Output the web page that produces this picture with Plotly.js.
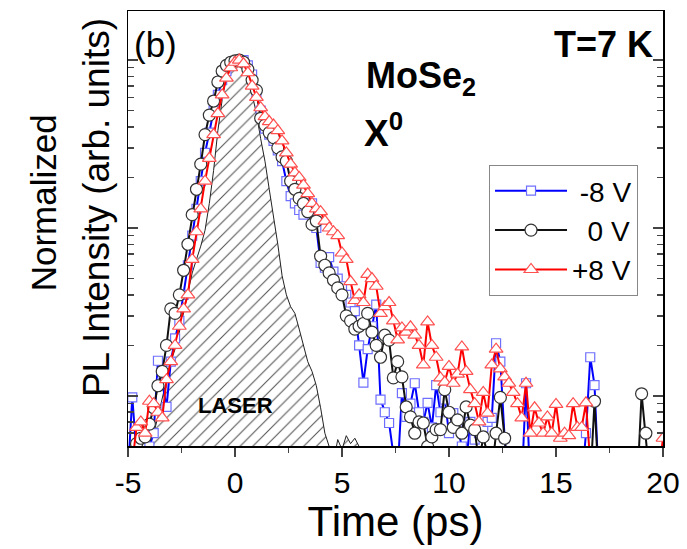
<!DOCTYPE html>
<html><head><meta charset="utf-8">
<script src="https://cdn.plot.ly/plotly-3.0.1.min.js"></script>
<style>html,body{margin:0;padding:0;background:#fff}#chart{width:687px;height:549px}</style>
</head><body><div id="chart"></div>
<script>
// Time axis (ps)
const time = [
 -5.0,-4.8,-4.6,-4.4,-4.2,-4.0,-3.8,-3.6,-3.4,-3.2,
 -3.0,-2.8,-2.6,-2.4,-2.2,-2.0,-1.8,-1.6,-1.4,-1.2,
 -1.0,-0.8,-0.6,-0.4,-0.2,0.0,0.2,0.4,0.6,0.8,
 1.0,1.2,1.4,1.6,1.8,2.0,2.2,2.4,2.6,2.8,
 3.0,3.2,3.4,3.6,3.8,4.0,4.2,4.4,4.6,4.8,
 5.0,5.2,5.4,5.6,5.8,6.0,6.2,6.4,6.6,6.8,
 7.0,7.2,7.4,7.6,7.8,8.0,8.2,8.4,8.6,8.8,
 9.0,9.2,9.4,9.6,9.8,10.0,10.2,10.4,10.6,10.8,
 11.0,11.2,11.4,11.6,11.8,12.0,12.2,12.4,12.6,12.8,
 13.0,13.2,13.4,13.6,13.8,14.0,14.2,14.4,14.6,14.8,
 15.0,15.2,15.4,15.6,15.8,16.0,16.2,16.4,16.6,16.8,
 17.0,17.2,17.4,17.6,17.8,18.0,18.2,18.4,18.6,18.8,
 19.0,19.2,19.4,19.6,19.8,20.0];

const laser = [
 0.003,0.003,0.0035,0.004,0.0045,0.0052,0.006,0.0075,0.0095,0.0125,
 0.016,0.019,0.024,0.031,0.040,0.054,0.065,0.078,0.097,0.14,
 0.22,0.38,0.58,0.82,0.95,1.0,0.99,0.93,0.82,0.64,
 0.48,0.34,0.25,0.17,0.12,0.08,0.052,0.040,0.034,0.031,
 0.025,0.020,0.016,0.014,0.0115,0.0085,0.0060,0.0050,0.0040,0.0055,
 0.0048,0.0058,0.0052,0.0056,0.0050,0.003,0.003,0.003,0.003,0.003,
 0.003,0.003,0.003,0.003,0.003,0.003,0.003,0.003,0.003,0.003,
 0.003,0.003,0.003,0.003,0.003,0.003,0.003,0.003,0.003,0.003,
 0.003,0.003,0.003,0.003,0.003,0.003,0.003,0.003,0.003,0.003,
 0.003,0.003,0.003,0.003,0.003,0.003,0.003,0.003,0.003,0.003,
 0.003,0.003,0.003,0.003,0.003,0.003,0.003,0.003,0.003,0.003,
 0.003,0.003,0.003,0.003,0.003,0.003,0.003,0.003,0.003,0.003,
 0.003,0.003,0.003,0.003,0.003,0.003];

const vNeg8 = [
 0.0035,0.0098,0.0045,0.004,0.0045,0.0050,0.0060,0.0162,0.012,0.0086,
 0.016,0.022,0.028,0.040,0.060,0.09,0.13,0.19,0.28,0.37,
 0.50,0.62,0.76,0.86,0.93,0.98,1.0,1.0,0.93,0.82,
 0.62,0.50,0.39,0.36,0.33,0.29,0.25,0.19,0.155,0.14,
 0.128,0.12,0.13,0.14,0.10,0.062,0.058,0.067,0.055,0.050,
 0.045,0.040,0.036,0.032,0.020,0.012,0.019,0.026,0.035,0.0095,
 0.0080,0.0069,0.0045,0.0035,0.0104,0.0075,0.0090,0.0119,0.0080,0.0070,
 0.0091,0.0065,0.0116,0.0080,0.0095,0.0060,0.0079,0.0065,0.0050,0.0040,
 0.0070,0.0055,0.0060,0.0065,0.0070,0.0074,0.0206,0.016,0.0056,0.003,
 0.003,0.003,0.003,0.0119,0.003,0.003,0.003,0.003,0.003,0.003,
 0.003,0.003,0.003,0.003,0.003,0.003,0.003,0.006,0.017,0.0116,
 0.003,0.003,0.003,0.003,0.003,0.003,0.003,0.003,0.003,0.003,
 0.003,0.003,0.003,0.003,0.003,0.003];

const v0 = [
 0.003,0.004,0.0052,0.0056,0.0057,0.0068,0.0085,0.0115,0.014,0.020,
 0.033,0.031,0.040,0.056,0.080,0.12,0.17,0.24,0.36,0.47,
 0.57,0.74,0.86,0.93,0.97,0.99,1.0,0.97,0.88,0.76,
 0.66,0.45,0.41,0.37,0.345,0.30,0.265,0.25,0.19,0.17,
 0.15,0.14,0.125,0.105,0.11,0.068,0.060,0.054,0.049,0.044,
 0.040,0.030,0.028,0.025,0.026,0.027,0.031,0.024,0.020,0.017,
 0.023,0.0215,0.0128,0.016,0.013,0.0086,0.0075,0.0060,0.0070,0.0069,
 0.0050,0.0057,0.0063,0.0063,0.0109,0.0080,0.0065,0.0072,0.0060,0.0086,
 0.0067,0.0063,0.0040,0.0057,0.0045,0.0035,0.0060,0.0098,0.0056,0.003,
 0.003,0.0045,0.003,0.003,0.003,0.0042,0.003,0.003,0.003,0.003,
 0.003,0.003,0.0045,0.003,0.003,0.003,0.003,0.003,0.003,0.0093,
 0.003,0.003,0.003,0.003,0.003,0.003,0.003,0.003,0.003,0.003,
 0.0103,0.006,0.003,0.003,0.003,0.003];

const vPos8 = [
 0.003,0.004,0.0065,0.0070,0.0060,0.0093,0.0090,0.0080,0.0074,0.0125,
 0.016,0.020,0.026,0.033,0.040,0.065,0.095,0.13,0.19,0.26,
 0.36,0.48,0.62,0.78,0.90,0.97,1.0,0.95,0.84,0.70,
 0.60,0.52,0.46,0.43,0.41,0.38,0.33,0.28,0.24,0.213,
 0.20,0.18,0.16,0.14,0.13,0.125,0.11,0.10,0.095,0.090,
 0.071,0.065,0.048,0.037,0.040,0.036,0.053,0.050,0.045,0.031,
 0.034,0.036,0.028,0.0216,0.0254,0.024,0.0258,0.023,0.020,0.0153,
 0.0276,0.020,0.017,0.0128,0.0121,0.0150,0.0119,0.0135,0.0196,0.0140,
 0.0109,0.0090,0.0070,0.0105,0.0079,0.0153,0.019,0.0145,0.0130,0.0119,
 0.0105,0.0090,0.0074,0.0119,0.0060,0.0085,0.0069,0.0060,0.0075,0.0060,
 0.0089,0.0056,0.0060,0.0058,0.0090,0.0065,0.0065,0.0091,0.0040,0.003,
 0.003,0.003,0.003,0.003,0.003,0.003,0.003,0.003,0.003,0.003,
 0.003,0.003,0.003,0.003,0.0035,0.0056];

const seriesNames = ['\u00a0-8 V', '\u00a0\u00a00 V', '+8 V'];
const xTickVals = [-5, 0, 5, 10, 15, 20];
const xTickText = ['-5', '0', '5', '10', '15', '20'];

const FONT = 'Liberation Sans, Arial, sans-serif';

const traces = [
  {
    x: time, y: laser, type: 'scatter', mode: 'lines', showlegend: false,
    line: {color: '#222', width: 1},
    fill: 'tozeroy', fillcolor: 'rgba(255,255,255,0)',
    fillpattern: {shape: '/', fgcolor: '#555', bgcolor: 'rgba(255,255,255,0)', size: 9, solidity: 0.12}
  },
  {
    x: time, y: vNeg8, type: 'scatter', mode: 'lines+markers', name: seriesNames[0],
    legendgroup: 'a',
    line: {color: '#0000ff', width: 2},
    marker: {symbol: 'square', size: 9, color: 'white', line: {color: '#6f6fff', width: 1.2}}
  },
  {
    x: time, y: v0, type: 'scatter', mode: 'lines+markers', name: seriesNames[1],
    legendgroup: 'b',
    line: {color: '#111', width: 2},
    marker: {symbol: 'circle', size: 12, color: 'white', line: {color: '#333', width: 1.2}}
  },
  {
    x: time, y: vPos8, type: 'scatter', mode: 'lines+markers', name: seriesNames[2],
    legendgroup: 'c',
    line: {color: '#ff0000', width: 2},
    marker: {symbol: 'triangle-up', size: 12, color: 'white', line: {color: '#ff5050', width: 1.2}}
  }
];

const layout = {
  width: 687, height: 549,
  margin: {l: 128, r: 24, t: 11, b: 103},
  paper_bgcolor: 'white', plot_bgcolor: 'white',
  font: {family: FONT, color: '#000'},
  showlegend: true,
  legend: {
    x: 0.6748, y: 0.646, xanchor: 'left', yanchor: 'top',
    bgcolor: 'white', bordercolor: '#888', borderwidth: 1,
    font: {family: FONT, size: 28, color: '#000'},
    itemwidth: 72, traceorder: 'grouped', tracegroupgap: 0
  },
  xaxis: {
    range: [-5, 20], tickvals: xTickVals, ticktext: xTickText,
    ticks: 'outside', ticklen: 9, tickwidth: 1.5,
    minor: {dtick: 2.5, tick0: 0, ticks: 'outside', ticklen: 5, tickwidth: 1.5},
    showline: true, linewidth: 1.5, linecolor: '#000', mirror: true,
    showgrid: false, zeroline: false,
    tickfont: {family: FONT, size: 30, color: '#000'},
    title: {text: 'Time (ps)', font: {family: FONT, size: 42, color: '#000'}, standoff: 6}
  },
  xaxis2: {
    overlaying: 'x', anchor: 'y', side: 'top', range: [-5, 20],
    tick0: 0, dtick: 2.5, ticks: 'inside', ticklen: 6, tickwidth: 1.5,
    showticklabels: false, showgrid: false, zeroline: false, showline: false
  },
  yaxis: {
    type: 'log', range: [-2.298, 0.292], dtick: 1, tick0: 0,
    ticks: 'inside', ticklen: 10, tickwidth: 1.5,
    minor: {dtick: 'D1', ticks: 'inside', ticklen: 6, tickwidth: 1.5},
    showticklabels: false,
    showline: true, linewidth: 1.5, linecolor: '#000', mirror: 'ticks',
    showgrid: false, zeroline: false
  },
  annotations: [
    {xref: 'paper', yref: 'paper', x: -0.0598, y: 0.547, text: 'PL Intensity (arb. units)',
     textangle: -90, showarrow: false, xanchor: 'center', yanchor: 'middle',
     font: {family: FONT, size: 37, color: '#000'}},
    {xref: 'paper', yref: 'paper', x: -0.158, y: 0.559, text: 'Normalized',
     textangle: -90, showarrow: false, xanchor: 'center', yanchor: 'middle',
     font: {family: FONT, size: 35, color: '#000'}},
    {xref: 'paper', yref: 'paper', x: 0.007, y: 0.922, text: '(b)', showarrow: false,
     xanchor: 'left', yanchor: 'middle', font: {family: FONT, size: 35, color: '#000'}},
    {xref: 'paper', yref: 'paper', x: 0.985, y: 0.922, text: '<b>T=7 K</b>', showarrow: false,
     xanchor: 'right', yanchor: 'middle', font: {family: FONT, size: 36, color: '#000'}},
    {xref: 'paper', yref: 'paper', x: 0.547, y: 0.846, text: '<b>MoSe<sub>2</sub></b>', showarrow: false,
     xanchor: 'center', yanchor: 'middle', font: {family: FONT, size: 36, color: '#000'}},
    {xref: 'paper', yref: 'paper', x: 0.437, y: 0.726, text: '<b>X<sup>0</sup></b>', showarrow: false,
     xanchor: 'left', yanchor: 'middle', font: {family: FONT, size: 37, color: '#000'}},
    {xref: 'x', yref: 'paper', x: 0.0, y: 0.092, text: '<b>LASER</b>', showarrow: false,
     xanchor: 'center', yanchor: 'middle', font: {family: FONT, size: 22, color: '#000'}}
  ]
};

Plotly.newPlot('chart', traces, layout, {staticPlot: true, displayModeBar: false});
</script>
</body></html>
